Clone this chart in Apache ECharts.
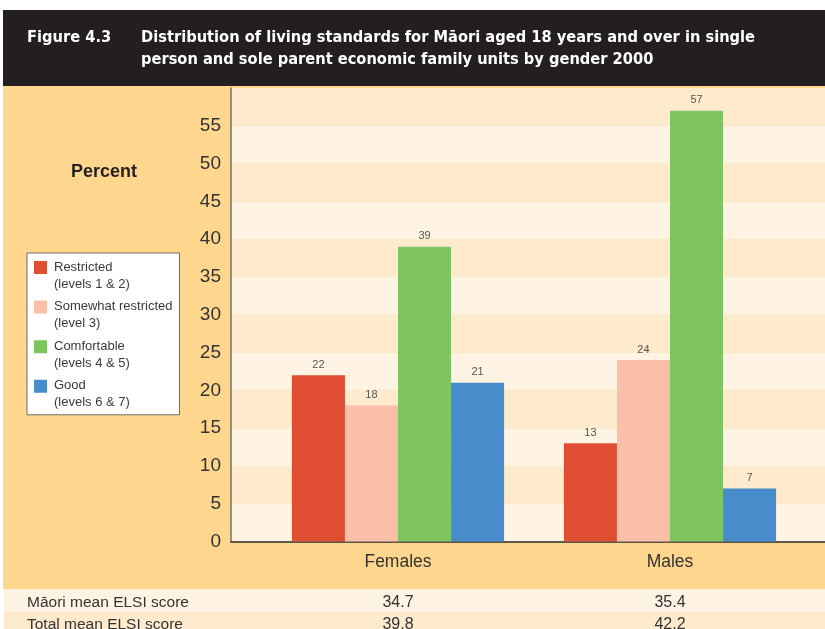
<!DOCTYPE html>
<html>
<head>
<meta charset="utf-8">
<script src="https://cdn.jsdelivr.net/npm/echarts@6/dist/echarts.min.js"></script>
<style>
html,body{margin:0;padding:0;background:#fff;}
#c{width:825px;height:629px;}
</style>
</head>
<body>
<div id="c"></div>
<script>
// ---- data ----
const categories = ['Females', 'Males'];
const seriesNames = [
  'Restricted\n(levels 1 & 2)',
  'Somewhat restricted\n(level 3)',
  'Comfortable\n(levels 4 & 5)',
  'Good\n(levels 6 & 7)'
];
const restricted = [22, 13];
const somewhatRestricted = [18, 24];
const comfortable = [39, 57];
const good = [21, 7];
const maoriElsi = [34.7, 35.4];
const totalElsi = [39.8, 42.2];
const tableRowLabels = ['Māori mean ELSI score', 'Total mean ELSI score'];
const yMin = 0, yMax = 60, yInterval = 5;

const colors = ['#DF4E33', '#FABFA8', '#7EC55F', '#488DCB'];
const seriesData = [restricted, somewhatRestricted, comfortable, good];

const headerFont = "'DejaVu Sans Condensed', 'Liberation Sans', sans-serif";
const bodyFont = "'Liberation Sans', Arial, sans-serif";

// legend icon: square in the upper part of a tall box (tiny dots fix the bbox)
const legendIcon = 'path://M0,0h0.05v0.05h-0.05z M0,2.5h13v13h-13z M0,33.95h0.05v0.05h-0.05z';

const chart = echarts.init(document.getElementById('c'), null, {renderer: 'canvas'});

const option = {
  animation: false,
  backgroundColor: '#ffffff',
  title: [
    {
      text: 'Figure 4.3',
      left: 27, top: 27, padding: 0,
      textStyle: {color: '#ffffff', fontFamily: headerFont, fontWeight: 'bold', fontSize: 16.3, lineHeight: 22}
    },
    {
      text: 'Distribution of living standards for Māori aged 18 years and over in single\nperson and sole parent economic family units by gender 2000',
      left: 141, top: 27, padding: 0,
      textStyle: {color: '#ffffff', fontFamily: headerFont, fontWeight: 'bold', fontSize: 16.3, lineHeight: 22}
    }
  ],
  graphic: [
    {type: 'rect', z: -10, shape: {x: 3, y: 10, width: 822, height: 76}, style: {fill: '#231F20'}},
    {type: 'rect', z: -10, shape: {x: 3, y: 86, width: 822, height: 503}, style: {fill: '#FFD68D'}},
    {type: 'rect', z: -10, shape: {x: 4, y: 589, width: 821, height: 23}, style: {fill: '#FFF3E4'}},
    {type: 'rect', z: -10, shape: {x: 4, y: 612, width: 821, height: 17}, style: {fill: '#FEEACD'}},
    {type: 'text', left: 71, top: 163, style: {text: 'Percent', fill: '#231F20', font: "bold 18px 'Liberation Sans', Arial, sans-serif"}},
    {type: 'text', left: 27, top: 595, style: {text: tableRowLabels[0], fill: '#333333', font: "15.5px 'Liberation Sans', Arial, sans-serif"}},
    {type: 'text', left: 27, top: 617, style: {text: tableRowLabels[1], fill: '#333333', font: "15.5px 'Liberation Sans', Arial, sans-serif"}}
  ],
  legend: {
    orient: 'vertical',
    left: 27, top: 253,
    padding: [5.5, 7, 3.5, 7],
    backgroundColor: '#ffffff',
    borderColor: '#6d6d6d',
    borderWidth: 1,
    itemWidth: 13,
    itemHeight: 34,
    itemGap: 5.6,
    icon: legendIcon,
    selectedMode: false,
    textStyle: {color: '#3a3a3a', fontFamily: bodyFont, fontSize: 13, lineHeight: 17, padding: [0, 0, 0, 2]},
    data: seriesNames
  },
  grid: [
    {left: 231, right: 0, top: 88, bottom: 87.5, outerBoundsMode: 'none', containLabel: false},
    {left: 262, right: 19, top: 88, bottom: 87.5, outerBoundsMode: 'none', containLabel: false}
  ],
  xAxis: [
    {
      type: 'category', gridIndex: 0, data: [''],
      axisLine: {show: true, lineStyle: {color: '#2b2b2b', width: 1.5}},
      axisTick: {show: false}, axisLabel: {show: false}, splitLine: {show: false}
    },
    {
      type: 'category', gridIndex: 1, data: categories,
      axisLine: {show: false}, axisTick: {show: false},
      axisLabel: {
        margin: 9.5,
        interval: 0,
        formatter: function (v, i) {
          return '{c|' + v + '}\n{s| }\n{v|' + maoriElsi[i].toFixed(1) + '}\n{v|' + totalElsi[i].toFixed(1) + '}';
        },
        rich: {
          c: {fontFamily: bodyFont, fontSize: 17.5, lineHeight: 22, color: '#333333'},
          s: {fontSize: 1, lineHeight: 19},
          v: {fontFamily: bodyFont, fontSize: 16, lineHeight: 21.5, color: '#333333'}
        }
      }
    }
  ],
  yAxis: [
    {
      type: 'value', gridIndex: 0, min: yMin, max: yMax, interval: yInterval,
      axisLine: {show: true, lineStyle: {color: '#7b6f62', width: 1.5}},
      axisTick: {show: false},
      splitLine: {show: false},
      splitArea: {show: true, areaStyle: {color: ['#FFF3E4', '#FEEACD']}},
      axisLabel: {
        margin: 10, color: '#333333', fontFamily: bodyFont, fontSize: 19,
        formatter: function (v) { return v === yMax ? '' : String(v); }
      }
    },
    {
      type: 'value', gridIndex: 1, min: yMin, max: yMax, interval: yInterval,
      show: false, splitLine: {show: false}
    }
  ],
  series: seriesNames.map(function (name, k) {
    return {
      name: name,
      type: 'bar',
      xAxisIndex: 1, yAxisIndex: 1,
      data: seriesData[k],
      barGap: '0%',
      barCategoryGap: '22%',
      itemStyle: {color: colors[k]},
      label: {show: true, position: 'top', distance: 5, color: '#555555', fontFamily: bodyFont, fontSize: 11}
    };
  })
};

chart.setOption(option);
</script>
</body>
</html>
